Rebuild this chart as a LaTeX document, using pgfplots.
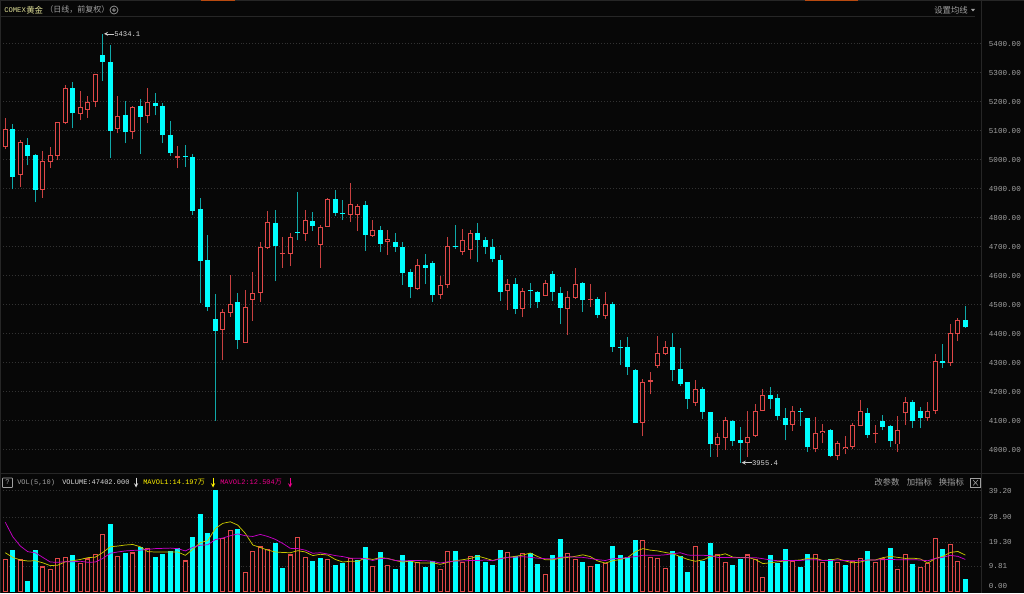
\documentclass[border=0pt]{standalone}
\usepackage{fontspec}
\usepackage{pgfplots}
\usepackage{pgfplotstable}
\pgfplotsset{compat=1.18}
\newfontfamily\mono{Liberation Mono}
\newfontfamily\cjk{Noto Sans CJK SC}
\definecolor{bg}{HTML}{070707}
\definecolor{cy}{HTML}{00FFFF}
\definecolor{cywick}{HTML}{0FA8A8}
\definecolor{rd}{HTML}{E04848}
\definecolor{rdwick}{HTML}{C84040}
\definecolor{gridc}{HTML}{323232}
\definecolor{framec}{HTML}{262626}
\definecolor{lab}{HTML}{A0A0A0}
\definecolor{mayel}{HTML}{C8C800}
\definecolor{mamag}{HTML}{C800C8}
\definecolor{hdyel}{HTML}{E0E098}
\definecolor{orangec}{HTML}{B84A10}

\pgfplotstableread{
i o h l c
1 5045 5145 5036 5107
3 4948 5069 4906 5062
6 4897 5030 4868 4997
7 4992 5043 4971 5015
8 5013 5131 4998 5130
9 5126 5256 5122 5247
11 5157 5238 5136 5183
12 5172 5221 5145 5200
13 5199 5297 5180 5295
16 5106 5218 5091 5152
18 5097 5184 5070 5182
20 5151 5247 5125 5198
24 5007 5046 4970 5012
30 4414 4484 4308 4476
31 4472 4602 4459 4501
33 4369 4551 4369 4491
34 4517 4612 4445 4541
35 4539 4717 4509 4700
36 4697 4822 4691 4784
38 4674 4733 4628 4676
39 4676 4746 4632 4733
41 4745 4826 4720 4791
43 4707 4775 4628 4767
44 4769 4869 4769 4866
47 4810 4918 4785 4848
48 4810 4848 4754 4841
50 4738 4791 4734 4757
52 4716 4757 4672 4725
56 4555 4657 4551 4636
59 4532 4598 4521 4567
60 4569 4734 4556 4701
62 4682 4761 4671 4724
63 4690 4757 4656 4746
68 4547 4589 4483 4570
70 4486 4557 4456 4546
73 4531 4584 4530 4574
76 4486 4547 4395 4525
77 4524 4625 4520 4570
79 4516 4571 4493 4520
81 4462 4544 4451 4502
86 4093 4243 4047 4234
87 4233 4268 4191 4239
88 4289 4393 4283 4332
89 4331 4376 4328 4353
93 4162 4240 4151 4210
96 4017 4059 3976 4043
97 4041 4112 3999 4102
100 4024 4133 3974 4044
101 4048 4156 4043 4134
102 4134 4208 4134 4187
106 4086 4149 4064 4132
109 4003 4113 3991 4059
110 4057 4087 4022 4066
112 3979 4030 3964 4022
113 4003 4047 3985 4011
114 4010 4093 4002 4084
115 4083 4171 4083 4134
117 4053 4086 4024 4056
120 4018 4115 3993 4067
121 4125 4182 4085 4163
124 4108 4164 4099 4134
125 4134 4329 4123 4307
127 4298 4432 4289 4401
128 4398 4453 4374 4448
}\up
\pgfplotstableread{
i o h l c
2 5106 5122 4898 4941
4 5049 5074 4980 5014
5 5015 5021 4853 4897
10 5247 5269 5108 5160
14 5360 5434 5271 5336
15 5336 5394 5005 5099
17 5155 5203 5056 5094
19 5186 5210 5021 5147
21 5194 5230 5153 5184
22 5184 5197 5056 5085
23 5084 5132 5013 5023
25 5012 5049 4976 5009
26 5010 5020 4809 4823
27 4829 4867 4505 4652
28 4654 4739 4478 4493
29 4451 4537 4100 4410
32 4509 4541 4348 4378
37 4783 4826 4580 4703
40 4749 4887 4722 4747
42 4790 4818 4754 4771
45 4863 4894 4807 4816
46 4816 4861 4792 4814
49 4844 4856 4685 4740
51 4757 4770 4680 4710
53 4715 4746 4682 4699
54 4698 4717 4568 4610
55 4612 4624 4522 4560
57 4637 4674 4571 4626
58 4644 4652 4510 4532
61 4701 4775 4693 4698
64 4746 4783 4647 4723
65 4722 4734 4676 4698
66 4698 4726 4647 4656
67 4653 4670 4514 4545
69 4570 4592 4468 4486
71 4548 4574 4489 4546
72 4543 4546 4489 4510
74 4605 4617 4513 4543
75 4540 4560 4432 4489
78 4575 4577 4476 4516
80 4518 4525 4454 4464
82 4502 4509 4337 4355
83 4353 4378 4293 4351
84 4354 4389 4259 4286
85 4276 4280 4091 4093
90 4354 4401 4237 4276
91 4277 4352 4220 4226
92 4232 4233 4139 4174
94 4210 4215 4107 4130
95 4130 4131 3976 4018
98 4100 4102 4013 4030
99 4032 4078 3955 4023
103 4189 4216 4141 4176
104 4177 4192 4102 4117
105 4108 4144 4032 4086
107 4134 4144 4082 4131
108 4108 4109 3993 4008
111 4069 4070 3974 3980
116 4126 4145 4041 4052
118 4098 4120 4067 4079
119 4083 4085 4010 4030
122 4163 4171 4076 4099
123 4134 4146 4074 4110
126 4307 4363 4282 4300
129 4446 4495 4421 4422
}\down
\pgfplotstableread{
i v
1 12.5
3 12.3
6 9.6
7 8.5
8 12.9
9 13.3
11 11.0
12 12.7
13 14.5
14 22.2
16 13.8
18 15.0
20 16.8
25 11.9
30 20.7
31 23.8
33 7.5
34 15.6
35 17.3
36 16.4
39 14.2
40 21.1
41 13.2
44 12.5
47 12.9
50 9.8
52 10.1
56 11.2
59 8.5
60 15.6
62 11.4
63 13.6
68 15.1
70 14.7
73 6.6
76 14.9
77 12.5
79 9.8
81 11.0
86 19.9
87 13.3
88 12.9
89 9.0
93 17.6
96 14.5
97 11.4
100 14.2
101 12.4
102 5.6
106 11.6
109 14.5
110 11.2
112 11.4
114 11.6
115 13.0
117 11.4
118 12.7
120 8.7
121 14.5
123 9.4
124 11.0
125 20.7
127 18.3
128 11.8
}\volup
\pgfplotstableread{
i v
2 15.8
4 4.1
5 16.1
10 14.2
15 26.1
17 14.9
19 17.3
21 13.3
22 14.6
23 15.6
24 16.7
26 20.9
27 30.0
28 22.4
29 39.2
32 24.2
37 18.7
38 9.0
42 11.9
43 12.7
45 10.3
46 10.9
48 12.1
49 17.3
51 15.1
53 8.7
54 14.1
55 12.1
57 9.4
58 11.8
61 15.4
64 14.1
65 11.2
66 10.2
67 16.1
69 13.6
71 14.7
72 10.7
74 14.1
75 20.3
78 11.5
80 10.5
82 17.6
83 14.1
84 13.3
85 20.0
90 15.6
91 13.8
92 7.5
94 11.9
95 18.5
98 10.3
99 12.4
103 14.2
104 11.1
105 16.4
107 9.4
108 14.6
111 12.3
113 10.2
116 15.6
119 16.8
122 10.7
126 16.2
129 4.74
}\voldown
\pgfplotstableread{
i y m
1 15.1 26.9
2 13.3 21.3
3 12.3 17.7
4 11.9 15.5
5 12.0 15.1
6 11.2 13.3
7 10.1 11.5
8 10.3 11.4
9 11.6 11.6
10 12.0 11.6
11 12.5 11.8
12 13.2 11.4
13 13.4 11.5
14 15.2 12.9
15 17.4 14.9
16 17.7 15.4
17 18.1 15.8
18 18.3 16.0
19 17.4 16.1
20 15.5 16.4
21 15.4 16.7
22 15.4 16.8
23 15.4 16.9
24 15.4 16.7
25 14.1 15.8
26 16.4 17.2
27 19.0 18.0
28 19.8 18.2
29 24.5 20.2
30 26.5 20.8
31 27.1 21.7
32 25.8 22.4
33 22.6 21.7
34 18.1 21.4
35 17.1 22.2
36 16.1 21.4
37 15.4 20.3
38 15.2 18.7
39 15.1 16.8
40 15.9 16.7
41 15.4 16.1
42 14.0 14.9
43 14.5 15.1
44 14.2 14.6
45 12.5 14.0
46 11.5 13.6
47 11.8 13.0
48 11.8 13.0
49 13.0 12.8
50 12.5 12.1
51 13.2 12.9
52 12.9 12.8
53 12.1 12.1
54 11.5 11.9
55 11.9 12.1
56 11.2 12.1
57 11.1 12.0
58 11.2 11.8
59 10.6 11.1
60 11.4 11.6
61 12.0 11.9
62 12.4 11.9
63 12.9 12.1
64 13.8 12.1
65 13.0 12.3
66 12.1 12.0
67 12.9 12.8
68 13.3 13.3
69 13.7 13.4
70 14.2 13.6
71 15.0 13.3
72 13.6 13.0
73 12.4 12.8
74 12.4 12.7
75 13.0 13.3
76 13.3 13.6
77 13.7 13.4
78 14.3 13.3
79 13.6 12.9
80 11.9 12.4
81 11.1 12.1
82 12.0 12.8
83 12.5 12.9
84 13.3 13.3
85 15.5 13.6
86 16.7 14.1
87 16.1 14.1
88 15.8 14.1
89 15.2 14.3
90 14.7 14.7
91 13.6 15.1
92 12.5 14.2
93 11.8 14.1
94 12.3 14.1
95 13.6 14.0
96 14.0 13.3
97 14.7 13.3
98 13.4 13.2
99 13.2 13.2
100 13.3 13.2
101 12.5 13.2
102 10.9 12.8
103 11.2 12.3
104 11.6 12.0
105 11.9 12.1
106 12.1 12.1
107 12.3 12.1
108 12.9 12.4
109 13.0 12.4
110 12.1 12.1
111 12.3 12.1
112 12.8 12.3
113 11.9 12.1
114 11.2 12.0
115 11.5 12.0
116 12.3 12.3
117 12.3 12.3
118 13.2 12.4
119 13.7 12.5
120 13.3 12.4
121 12.9 12.4
122 13.0 12.4
123 12.7 12.3
124 11.1 12.0
125 12.9 12.9
126 13.7 13.3
127 15.2 14.1
128 15.6 13.7
129 14.2 12.5
}\ma

\newcommand{\hp}[2]{({#1*0.75pt},{(593-#2)*0.75pt})}
\pgfplotsset{
  chartbase/.style={
    scale only axis,
    anchor=south west,
    width=735.75pt,
    xmin=0.293, xmax=131.09,
    xtick=\empty,
    axis x line=none,
    axis y line*=right,
    y axis line style={draw=none},
    major tick length=0pt,
    ymajorgrids=true,
    major grid style={draw=gridc, line width=0.6pt, dash pattern=on 0.6pt off 1.6pt},
    clip=true,
    yticklabel style={font=\mono\fontsize{5.7}{6}\selectfont, text=lab, anchor=west, xshift=2.4pt,
      /pgf/number format/fixed, /pgf/number format/fixed zerofill, /pgf/number format/precision=2,
      /pgf/number format/1000 sep={}, /pgf/number format/assume math mode=true},
  },
  wick/.style={draw=none, mark=none, forget plot,
    error bars/.cd, y dir=plus, y explicit, error mark=none,
    error bar style={draw=#1, line width=0.75pt, solid, line cap=butt}},
  body/.style n args={2}{draw=none, mark=none, forget plot,
    error bars/.cd, y dir=plus, y explicit, error mark=none,
    error bar style={draw=#1, line width=#2, solid, line cap=butt}},
}

\begin{document}
\begin{tikzpicture}[x=1pt,y=1pt]
\useasboundingbox (0,0) rectangle (768pt,444.75pt);
\fill[bg] (0,0) rectangle (768pt,444.75pt);

% price panel
\begin{axis}[chartbase,
  at={(0pt,{(593-473)*0.75pt})},
  height={(473-17)*0.75pt},
  ymin=3919.7, ymax=5492,
  ytick={4000,4100,...,5400},
]
\addplot[wick=rdwick] table[x=i,y=l,y error expr={\thisrow{h}-\thisrow{l}}] {\up};
\addplot[wick=cywick] table[x=i,y=l,y error expr={\thisrow{h}-\thisrow{l}}] {\down};
\addplot[body={rd}{3.9pt}] table[x=i,y=o,y error expr={max(\thisrow{c}-\thisrow{o},3.4)}] {\up};
\addplot[body={bg}{2.1pt}] table[x=i,y expr={\thisrow{o}+3.4},y error expr={max(\thisrow{c}-\thisrow{o}-6.8,0)}] {\up};
\addplot[body={cy}{3.75pt}] table[x=i,y=c,y error expr={max(\thisrow{o}-\thisrow{c},3.4)}] {\down};
\draw[white!80!black, line width=0.4pt, -stealth] ([xshift=7.4pt]axis cs:14.15,5434) -- (axis cs:14.15,5434);
\node[anchor=west,inner sep=0pt,text=white!85!black,font=\mono\fontsize{5.4}{6}\selectfont] at ([xshift=7.6pt]axis cs:14.15,5434) {5434.1};
\draw[white!80!black, line width=0.4pt, -stealth] ([xshift=7.4pt]axis cs:99.18,3955.4) -- (axis cs:99.18,3955.4);
\node[anchor=west,inner sep=0pt,text=white!85!black,font=\mono\fontsize{5.4}{6}\selectfont] at ([xshift=7.6pt]axis cs:99.18,3955.4) {3955.4};
\end{axis}

% volume panel
\begin{axis}[chartbase,
  at={(0pt,0pt)},
  height={(593-473)*0.75pt},
  ymin=-0.5, ymax=46,
  ytick={9.81,19.3,28.9,39.2},
  extra y ticks={0},
  extra y tick style={ymajorgrids=false, yticklabel style={yshift=4.5pt}},
]
\addplot[ybar, bar width=3pt, bar shift=0pt, draw=rd, fill=bg, line width=0.9pt, forget plot] table[x=i,y=v] {\volup};
\addplot[ybar, bar width=3pt, bar shift=0pt, draw=cy, fill=cy, line width=0.75pt, forget plot] table[x=i,y=v] {\voldown};
\addplot[mayel, line width=0.55pt, forget plot] table[x=i,y=y] {\ma};
\addplot[mamag, line width=0.55pt, forget plot] table[x=i,y=m] {\ma};
\end{axis}

% frame and dividers
\draw[framec, line width=0.75pt] (0.4pt,0) -- (0.4pt,444.75pt);
\draw[framec, line width=1pt] (0,444.3pt) -- (768pt,444.3pt);
\draw[orangec, line width=1pt] \hp{201}{0.5} -- \hp{235}{0.5};
\draw[orangec, line width=1pt] \hp{805}{0.5} -- \hp{858}{0.5};
\draw[framec, line width=0.75pt] \hp{981.5}{0} -- \hp{981.5}{593};
\draw[framec, line width=0.75pt] \hp{0}{17} -- \hp{975}{17};
\draw[framec, line width=0.75pt] \hp{0}{473} -- \hp{1024}{473};

% header
\node[anchor=west,inner sep=0pt,text=hdyel,font=\mono\fontsize{5.4}{6}\selectfont] at \hp{4}{10} {COMEX};
\node[anchor=west,inner sep=0pt,text=hdyel,font=\cjk\fontsize{6.3}{7}\selectfont] at \hp{26}{10} {黄金};
\node[anchor=west,inner sep=0pt,text=lab,font=\cjk\fontsize{6}{7}\selectfont] at \hp{45}{10} {（日线，前复权）};
\draw[lab, line width=0.5pt] \hp{114}{10} circle (3pt);
\draw[lab, line width=0.5pt] \hp{114}{10} circle (1.1pt);
\node[anchor=west,inner sep=0pt,text=lab,font=\cjk\fontsize{6.3}{7}\selectfont] at \hp{934}{10} {设置均线};
\fill[lab] \hp{971}{9} -- \hp{975}{9} -- \hp{973}{11.5} -- cycle;

% volume header
\draw[lab, line width=0.5pt, rounded corners=0.5pt] \hp{2.5}{478} rectangle \hp{12.5}{487.5};
\node[inner sep=0pt,text=lab,font=\mono\fontsize{5.4}{6}\selectfont] at \hp{7.5}{482.5} {?};
\node[anchor=west,inner sep=0pt,text=lab,font=\mono\fontsize{5.25}{6}\selectfont] at \hp{17}{482.5} {VOL(5,10)};
\node[anchor=west,inner sep=0pt,text=white!85!black,font=\mono\fontsize{5.25}{6}\selectfont] at \hp{62}{482.5} {VOLUME:47402.000};
\draw[white!85!black, line width=0.45pt, -stealth] \hp{136}{477.5} -- \hp{136}{487.5};
\node[anchor=west,inner sep=0pt,text=yellow,font=\mono\fontsize{5.25}{6}\selectfont] at \hp{143}{482.5} {MAVOL1:14.197{\cjk 万}};
\draw[yellow, line width=0.45pt, -stealth] \hp{213}{477.5} -- \hp{213}{487.5};
\node[anchor=west,inner sep=0pt,text=magenta,font=\mono\fontsize{5.25}{6}\selectfont] at \hp{220}{482.5} {MAVOL2:12.504{\cjk 万}};
\draw[magenta, line width=0.45pt, -stealth] \hp{290}{477.5} -- \hp{290}{487.5};
\node[anchor=west,inner sep=0pt,text=lab,font=\cjk\fontsize{6.3}{7}\selectfont] at \hp{874}{482.5} {改参数};
\node[anchor=west,inner sep=0pt,text=lab,font=\cjk\fontsize{6.3}{7}\selectfont] at \hp{906.5}{482.5} {加指标};
\node[anchor=west,inner sep=0pt,text=lab,font=\cjk\fontsize{6.3}{7}\selectfont] at \hp{938.5}{482.5} {换指标};
\draw[lab, line width=0.5pt] \hp{970.5}{478} rectangle \hp{980.5}{487.5};
\draw[lab, line width=0.4pt] \hp{973}{480} -- \hp{978}{485.5} \hp{978}{480} -- \hp{973}{485.5};
\end{tikzpicture}
\end{document}
